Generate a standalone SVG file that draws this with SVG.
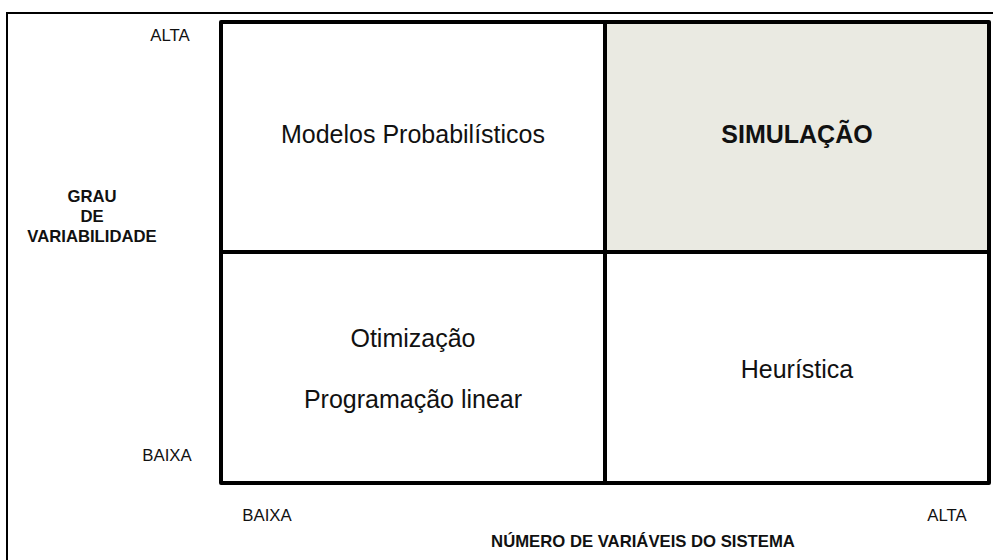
<svg xmlns="http://www.w3.org/2000/svg" width="993" height="560" viewBox="0 0 993 560">
<style>
.cell{stroke:#000;stroke-width:4;stroke-linejoin:round}
.big{font-family:"Liberation Sans",Arial,sans-serif;font-size:25px;fill:#111;text-anchor:middle}
.lbl{font-family:"Liberation Sans",Arial,sans-serif;font-size:16.8px;fill:#111;text-anchor:middle}
.ttl{font-family:"Liberation Sans",Arial,sans-serif;font-size:16.7px;font-weight:bold;fill:#111;text-anchor:middle}
</style>
<rect x="0" y="0" width="993" height="560" fill="#fff"/>
<rect id="frame" x="7" y="13" width="995" height="560" fill="none" stroke="#000" stroke-width="2"/>
<g id="cell-prob">
<rect class="cell" x="221" y="22" width="384" height="230" fill="#fff"/>
<text class="big" x="413" y="143">Modelos Probabilísticos</text>
</g>
<g id="cell-sim">
<rect class="cell" x="605" y="22" width="384" height="230" fill="#eaeae2"/>
<text class="big" x="797" y="143" font-weight="bold">SIMULAÇÃO</text>
</g>
<g id="cell-otim">
<rect class="cell" x="221" y="252" width="384" height="231" fill="#fff"/>
<text class="big" x="413" y="347">Otimização</text>
<text class="big" x="413" y="408">Programação linear</text>
</g>
<g id="cell-heur">
<rect class="cell" x="605" y="252" width="384" height="231" fill="#fff"/>
<text class="big" x="797" y="378">Heurística</text>
</g>
<g id="connectors"></g>
<g id="y-axis">
<text class="lbl" x="170" y="41">ALTA</text>
<text class="lbl" x="167" y="461">BAIXA</text>
<text class="ttl" x="92" y="202">GRAU</text>
<text class="ttl" x="92" y="222">DE</text>
<text class="ttl" x="92" y="242">VARIABILIDADE</text>
</g>
<g id="x-axis">
<text class="lbl" x="267" y="521">BAIXA</text>
<text class="lbl" x="947" y="521">ALTA</text>
<text class="ttl" x="643" y="547">NÚMERO DE VARIÁVEIS DO SISTEMA</text>
</g>
</svg>
